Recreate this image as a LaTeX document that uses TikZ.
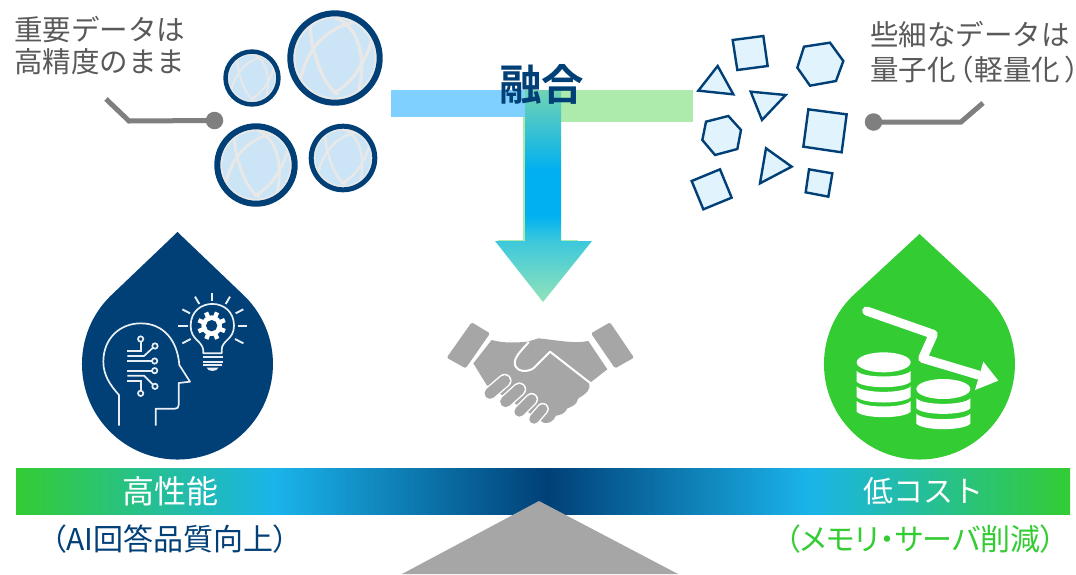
\documentclass[tikz,border=0pt]{standalone}
\usepackage{fontspec}
\setmainfont{Noto Sans CJK JP}[BoldFont={* Bold}]
\newfontfamily\palt{Noto Sans CJK JP}[RawFeature={+palt}]
\definecolor{navy}{HTML}{004077}
\definecolor{lime}{HTML}{33CC33}
\definecolor{sky}{HTML}{1AB4EA}
\definecolor{cyanmid}{HTML}{00B0F0}
\definecolor{arrowtop}{HTML}{72D3B4}
\definecolor{arrowbot}{HTML}{92E3B8}
\definecolor{arrowhead}{HTML}{3CC8DC}
\definecolor{globefill}{HTML}{CBE5F6}
\definecolor{globeline}{HTML}{E8E8E8}
\definecolor{shapefill}{HTML}{E1F3FC}
\definecolor{leadgrey}{HTML}{7F7F7F}
\definecolor{textgrey}{HTML}{595959}
\definecolor{shakegrey}{HTML}{A6A6A6}
\definecolor{barblue}{HTML}{7FCFFF}
\definecolor{bargreen}{HTML}{ACEBAC}
\definecolor{iconline}{HTML}{E8EEF3}
\pgfdeclarehorizontalshading{barshade}{100bp}{color(0bp)=(lime); color(25bp)=(lime); color(37.3bp)=(sky); color(50.2bp)=(navy); color(62.6bp)=(sky); color(75bp)=(lime); color(100bp)=(lime)}
\pgfdeclareverticalshading{arrowshade}{100bp}{color(0bp)=(arrowbot); color(25bp)=(arrowbot); color(39.4bp)=(arrowhead); color(45.5bp)=(cyanmid); color(56bp)=(cyanmid); color(75bp)=(arrowtop); color(100bp)=(arrowtop)}
\tikzset{
  leader/.style={draw=leadgrey,line width=5pt,miter limit=10},
  leaddot/.style={circle,fill=leadgrey,minimum size=17.5pt,inner sep=0pt},
  scrap/.style={draw=navy,fill=shapefill,line width=2.4pt,line join=miter},
  zoomA/.style={x=0.33333pt,y=-0.33333pt},
  iconstroke/.style={draw=iconline,line width=1.7pt},
  graytext/.style={text=textgrey,inner sep=0pt,align=left},
  bartext/.style={text=white,inner sep=0pt,font=\fontsize{32}{34}\selectfont},
  subtext/.style={inner sep=0pt,font=\palt\fontsize{30}{32}\selectfont}
}
% centre x, centre y, radius, ring width
\newcommand\globeicon[4]{%
  \begin{scope}[shift={(#1pt,-#2pt)},x=#3pt,y=-#3pt]
    \fill[globefill] (0,0) circle[radius=0.95];
    \begin{scope}[draw=globeline,line width=0.07*#3pt]
      \draw (0.36,-0.74) .. controls (-0.4,-0.56) and (-0.66,0.1) .. (-0.72,0.45);
      \draw (-0.52,-0.66) .. controls (-0.52,-0.26) and (-0.26,0.62) .. (0.08,0.76);
      \draw (0,-0.84) .. controls (0.44,-0.7) and (0.7,-0.08) .. (0.48,0.76);
      \draw (0.78,-0.4) .. controls (0.62,0.14) and (0.36,0.52) .. (-0.04,0.75);
    \end{scope}
    \draw[globeline,line width=0.05*#3pt] (0,0) circle[radius=1-#4/#3-0.02];
    \draw[navy,line width=#4pt] (0,0) circle[radius=1-#4/2/#3];
  \end{scope}}
\begin{document}
\begin{tikzpicture}[x=1pt,y=1pt]
\useasboundingbox (0,0) rectangle (1076,-574);
\fill[white] (0,0) rectangle (1076,-574);

% centre bars and arrow
\fill[barblue] (391,-90) rectangle (526,-117);
\fill[bargreen] (558,-90) rectangle (693,-122);
\fill[bargreen] (522.5,-117) rectangle (526,-241);
\fill[bargreen] (498,-240) rectangle (578,-241.5);
\shade[shading=arrowshade] (525,-90) -- (561,-90) -- (561,-241) -- (592,-241) -- (543,-302) -- (495,-241) -- (525,-241) -- cycle;
\node[text=navy,inner sep=0pt,font=\bfseries\fontsize{42.5}{44}\selectfont] (fusion) at (541.5,-84) {融合};

% globes
\globeicon{335}{58}{47.7}{6}
\globeicon{252}{78}{28.7}{4.5}
\globeicon{256}{165}{41.7}{6}
\globeicon{343}{158}{34.3}{5}

% scattered shapes
\begin{scope}[zoomA,shift={(680pt,0pt)}]
  \draw[scrap] (158,120) -- (250,108) -- (263,198) -- (172,210) -- cycle;
  \draw[scrap] (372,140) -- (450,128) -- (490,183) -- (468,243) -- (390,257) -- (352,203) -- cycle;
  \draw[scrap] (113,198) -- (160,283) -- (55,272) -- cycle;
  \draw[scrap] (212,275) -- (317,285) -- (246,360) -- cycle;
  \draw[scrap] (385,328) -- (500,343) -- (485,457) -- (370,440) -- cycle;
  \draw[scrap] (78,365) -- (145,348) -- (183,390) -- (172,447) -- (105,465) -- (67,420) -- cycle;
  \draw[scrap] (258,445) -- (335,500) -- (240,550) -- cycle;
  \draw[scrap] (35,543) -- (120,508) -- (155,593) -- (70,628) -- cycle;
  \draw[scrap] (387,508) -- (457,520) -- (445,590) -- (377,577) -- cycle;
\end{scope}

% top labels and leaders
\node[graytext,anchor=north west,font=\fontsize{28.5}{32}\selectfont] (topleft) at (14,-16) {重要データは\\高精度のまま};
\node[graytext,anchor=north west,font=\fontsize{28.5}{35}\selectfont] (topright) at (870,-21) {些細なデータは\\{\palt 量子化\kern3pt（\kern2pt 軽量化\kern5pt）}};
\node[leaddot] (dotL) at (214.5,-120.5) {};
\coordinate (kneeL) at (129,-121);
\coordinate (endL) at (106,-99);
\draw[leader] (dotL.center) -- (kneeL) -- (endL);
\node[leaddot] (dotR) at (873.5,-122) {};
\coordinate (kneeR) at (961,-122);
\coordinate (endR) at (983,-103);
\draw[leader] (dotR.center) -- (kneeR) -- (endR);

% left drop
\fill[navy] (177.5,-232) -- (245,-296.5) arc[start angle=45,end angle=-225,radius=95.5] -- cycle;
\begin{scope}[zoomA,shift={(70pt,-225pt)}]
  \draw[iconstroke,line join=round] (147,602) -- (147,510) .. controls (120,480) and (100,450) .. (100,410) .. controls (100,340) and (150,295) .. (212,295) .. controls (280,295) and (322,345) .. (328,420) -- (360,470) -- (326,474) -- (326,540) .. controls (326,548) and (322,551) .. (315,551) -- (257,551) -- (257,602);
  \draw[iconstroke] (172,378) -- (212,378) -- (212,351);
  \draw[iconstroke] (212,342) circle[radius=8];
  \draw[iconstroke] (172,393) -- (222,393) -- (248,369);
  \draw[iconstroke] (255,363) circle[radius=8];
  \draw[iconstroke] (172,408) -- (246,408);
  \draw[iconstroke] (254,408) circle[radius=8];
  \draw[iconstroke] (172,437) -- (246,437);
  \draw[iconstroke] (254,437) circle[radius=8];
  \draw[iconstroke] (172,452) -- (222,452) -- (248,478);
  \draw[iconstroke] (255,484) circle[radius=8];
  \draw[iconstroke] (172,468) -- (212,468) -- (212,496);
  \draw[iconstroke] (212,505) circle[radius=8];
  % bulb
  \draw[iconstroke,line join=round] (400,385) -- (400,375) .. controls (395,345) and (362,345) .. (362,302) .. controls (362,215) and (492,215) .. (492,302) .. controls (492,345) and (455,345) .. (455,375) -- (455,385) -- cycle;
  \foreach \xa/\ya/\xb/\yb in {427/203/427/228,375/215/388/237,480/215/467/237,337/253/360/265,520/253/497/265,325/303/353/303,505/303/532/303,337/355/362/342,520/355/495/342,398/397/458/397,398/410/458/410,400/421/456/421}
    \draw[draw=iconline,line width=1.9pt] (\xa,\ya) -- (\xb,\yb);
  \fill[iconline] (410,428) -- (445,428) .. controls (443,441) and (412,441) .. (410,428) -- cycle;
  \begin{scope}[shift={(425,302)}]
    \fill[white] (0,0) circle[radius=31];
    \foreach \a in {0,45,...,315} \draw[white,line width=4.4pt] (\a+22:25) -- (\a+22:43);
    \fill[navy] (0,0) circle[radius=17];
  \end{scope}
\end{scope}

% right drop
\fill[lime] (919.5,-234) -- (987,-296.5) arc[start angle=45,end angle=-225,radius=95.5] -- cycle;
\begin{scope}[zoomA,shift={(810pt,-225pt)}]
  \draw[white,line width=9pt,line cap=round,line join=round] (170,258) -- (370,328) -- (338,400) -- (505,450);
  \fill[white] (520,410) -- (565,467) -- (495,495) -- cycle;
  \fill[white] (221,412) ellipse[x radius=81,y radius=30];
  \foreach \t in {438,484,528}
    \fill[white] (140,\t) .. controls (160,\t+22) and (282,\t+22) .. (302,\t) -- (302,\t+32) .. controls (282,\t+54) and (160,\t+54) .. (140,\t+32) -- cycle;
  \fill[white] (400,492) ellipse[x radius=81,y radius=30];
  \foreach \t in {520,566}
    \fill[white] (319,\t) .. controls (339,\t+22) and (461,\t+22) .. (481,\t) -- (481,\t+30) .. controls (461,\t+52) and (339,\t+52) .. (319,\t+30) -- cycle;
\end{scope}

% handshake
\begin{scope}[zoomA,shift={(430pt,-310pt)}]
  \fill[shakegrey,rounded corners=1.5pt] (125,37) -- (180,70) -- (107,175) -- (50,143) -- cycle;
  \fill[shakegrey,rounded corners=1.5pt] (540,37) -- (483,70) -- (555,175) -- (612,143) -- cycle;
  \fill[shakegrey] (185,90) .. controls (220,100) and (260,98) .. (293,95) -- (325,85) .. controls (380,90) and (430,102) .. (475,93) -- (532,178) -- (478,220) .. controls (482,240) and (470,250) .. (445,265) .. controls (440,285) and (425,290) .. (412,295) .. controls (405,312) and (390,315) .. (378,317) .. controls (370,335) and (355,342) .. (340,338) -- (300,310) -- (170,225) -- (130,160) -- cycle;
  \draw[white,line width=2pt,line join=round,line cap=round] (482,220) -- (360,125) -- (310,175) .. controls (290,188) and (262,185) .. (255,165) .. controls (250,145) and (270,125) .. (296,97);
  \foreach \xa/\ya/\xb/\yb/\w in {180/250/224/212/11,227/275/268/238/11,268/305/305/268/10,312/327/338/297/9.5}{
    \draw[white,line width=\w pt+2.8pt,line cap=round] (\xa,\ya) -- (\xb,\yb);
    \draw[shakegrey,line width=\w pt,line cap=round] (\xa,\ya) -- (\xb,\yb);}
\end{scope}

% balance bar
\shade[shading=barshade] (16,-468) rectangle (1070,-514);
\fill[shakegrey] (539,-501) -- (678,-574) -- (402,-574) -- cycle;
\node[bartext] (perf) at (170.5,-491) {高性能};
\node[bartext,font=\fontsize{30}{32}\selectfont] (cost) at (923,-491) {低コスト};
\node[subtext,text=navy] (perfsub) at (170,-539) {（AI回答品質向上）};
\node[subtext,text=lime] (costsub) at (920.5,-539) {（メモリ・サーバ削減）};
\end{tikzpicture}
\end{document}
